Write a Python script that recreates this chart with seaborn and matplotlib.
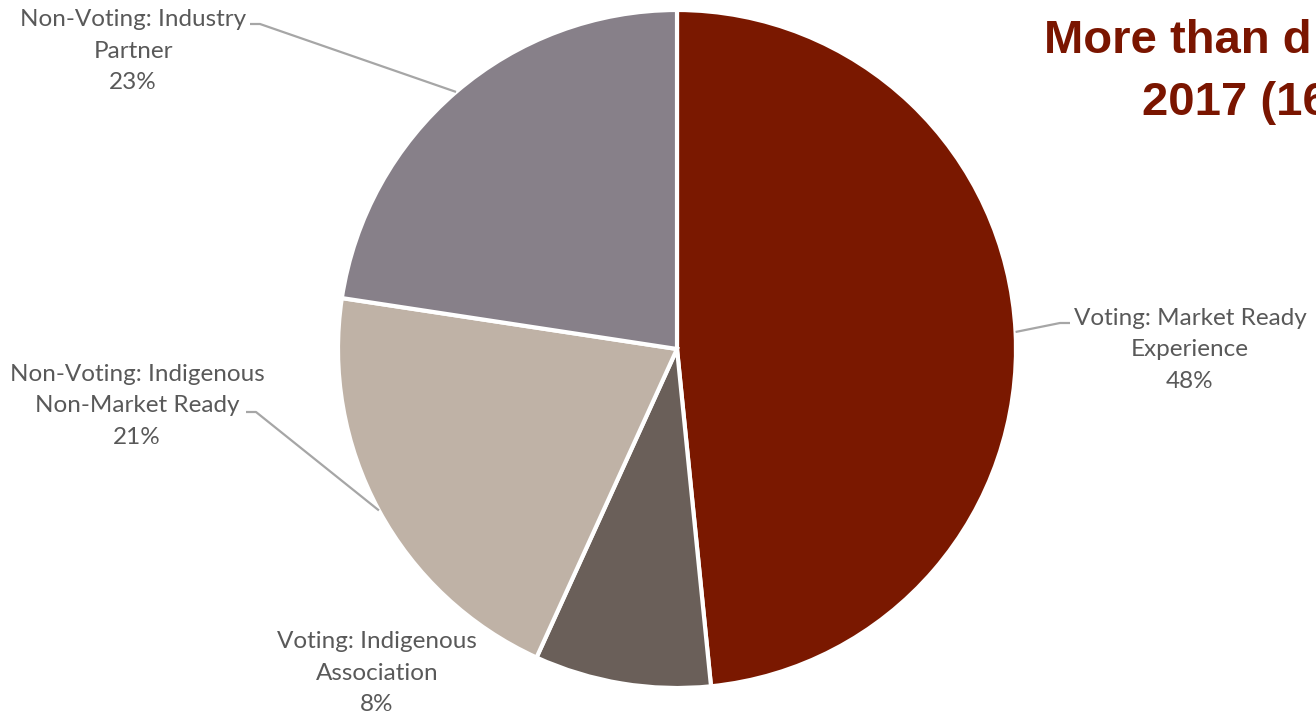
import numpy as np
import matplotlib
matplotlib.use("Agg")
import matplotlib.pyplot as plt
import seaborn as sns

# data (clockwise from 12 o'clock)
categories = ["Voting: Market Ready\nExperience", "Voting: Indigenous\nAssociation",
              "Non-Voting: Indigenous\nNon-Market Ready", "Non-Voting: Industry\nPartner"]
shares = [48.4, 8.4, 20.6, 22.6]
colors = ["#7A1800", "#6A5F59", "#BFB2A6", "#878089"]

# the title runs off the right edge in the reference
title_lines = ["More than d", "2017 (16"]

sns.set_theme(style="white")
plt.rcParams['font.family'] = ['Lato', 'DejaVu Sans']

W, H = 1316, 717
fig = plt.figure(figsize=(W / 100, H / 100), dpi=100)
ax = fig.add_axes([0, 0, 1, 1])

cx, cy, r = 677, H - 349, 339
wedges, _ = ax.pie(shares, colors=colors, startangle=90, counterclock=False,
                   center=(cx, cy), radius=r,
                   wedgeprops=dict(edgecolor="white", linewidth=3))
ax.set_xlim(0, W)
ax.set_ylim(0, H)
ax.set_aspect("equal")
ax.axis("off")

# label layout: (text center x, text center y in image px, leader end x, y, hook direction)
layout = [
    (1190, 350, 1060, 323, +1),
    (377, 673, None, None, 0),
    (137, 406, 256, 412, -1),
    (133, 51, 260, 24, -1),
]
gray = "#595959"
for w, cat, val, (tx, ty, lx, ly, d) in zip(wedges, categories, shares, layout):
    txt = f"{cat}\n{val:.0f}%"
    ax.text(tx, H - ty, txt, ha="center", va="center", fontsize=17.5,
            color=gray, linespacing=1.6)
    if lx is not None:
        mid = np.deg2rad((w.theta1 + w.theta2) / 2)
        px, py = cx + r * np.cos(mid), cy + r * np.sin(mid)
        ax.plot([px, lx, lx + d * 10], [py, H - ly, H - ly], color="#A6A6A6",
                lw=1.6, solid_capstyle="butt")

fig.text(1044 / W, 1 - 53 / H, title_lines[0], fontsize=34, fontweight="bold",
         color="#7A1500", ha="left", va="baseline",
         family=['Liberation Sans', 'DejaVu Sans'])
fig.text(1142 / W, 1 - 115 / H, title_lines[1], fontsize=34, fontweight="bold",
         color="#7A1500", ha="left", va="baseline",
         family=['Liberation Sans', 'DejaVu Sans'])

fig.savefig("out.png", dpi=100)
